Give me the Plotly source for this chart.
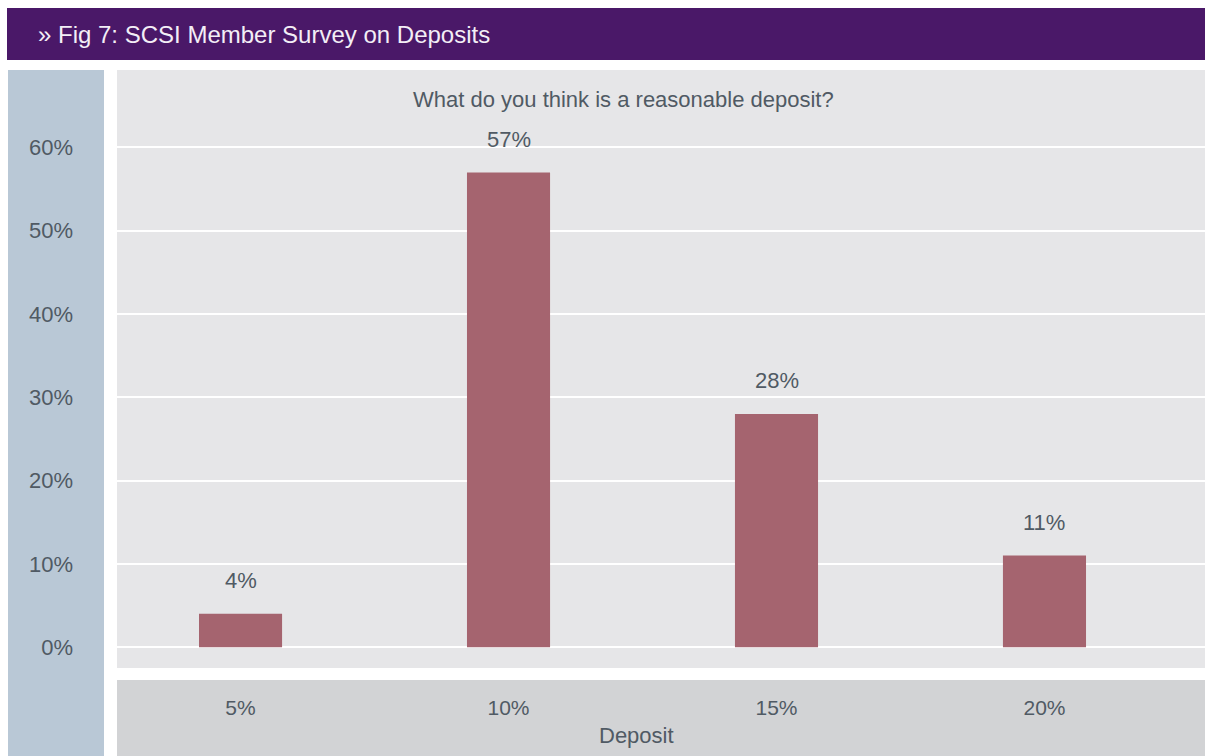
import plotly.graph_objects as go

categories = ["5%", "10%", "15%", "20%"]
values = [4, 57, 28, 11]
value_labels = ["4%", "57%", "28%", "11%"]
y_ticks = [0, 10, 20, 30, 40, 50, 60]
y_tick_labels = ["0%", "10%", "20%", "30%", "40%", "50%", "60%"]

W, H = 1205, 756
ML, MR, MT, MB = 117, 0, 70, 88
PW, PH = W - ML - MR, H - MT - MB

def px(x):
    return (x - ML) / PW

def py(y):
    return 1 - (y - MT) / PH

FONT = "Liberation Sans, Arial, sans-serif"
TXT = "#505a64"

fig = go.Figure()
fig.add_trace(go.Bar(
    x=list(range(len(categories))), y=values,
    marker=dict(color="#a5646f", line=dict(width=0)),
    width=0.31, hoverinfo="skip",
))

for i, (v, t) in enumerate(zip(values, value_labels)):
    fig.add_annotation(x=i, y=v, text=t, showarrow=False, yshift=33,
                       yanchor="middle", font=dict(size=22, color=TXT, family=FONT))

shapes = [
    dict(type="rect", xref="paper", yref="paper", x0=px(7), x1=px(1205),
         y0=py(60), y1=py(8), fillcolor="#4a1868", line=dict(width=0), layer="below"),
    dict(type="rect", xref="paper", yref="paper", x0=px(8), x1=px(104),
         y0=py(756), y1=py(70), fillcolor="#b9c8d6", line=dict(width=0), layer="below"),
    dict(type="rect", xref="paper", yref="paper", x0=px(117), x1=px(1205),
         y0=py(756), y1=py(680), fillcolor="#d2d3d5", line=dict(width=0), layer="below"),
]

annotations = [
    dict(xref="paper", yref="paper", x=px(36), y=py(34), xanchor="left", yanchor="middle",
         text="» Fig 7: SCSI Member Survey on Deposits", showarrow=False,
         font=dict(size=24, color="#f3eef6", family=FONT)),
    dict(xref="paper", yref="paper", x=px(623), y=py(100), xanchor="center", yanchor="middle",
         text="What do you think is a reasonable deposit?", showarrow=False,
         font=dict(size=22, color=TXT, family=FONT)),
    dict(xref="paper", yref="paper", x=px(636), y=py(735), xanchor="center", yanchor="middle",
         text="Deposit", showarrow=False,
         font=dict(size=22, color=TXT, family=FONT)),
]
for a in annotations:
    fig.add_annotation(**a)

fig.update_layout(
    width=W, height=H,
    margin=dict(l=ML, r=MR, t=MT, b=MB, pad=0),
    paper_bgcolor="#ffffff",
    plot_bgcolor="#e6e6e8",
    shapes=shapes,
    showlegend=False,
    font=dict(family=FONT, color=TXT),
    xaxis=dict(
        range=[-0.461, 3.599], tickmode="array",
        tickvals=list(range(len(categories))), ticktext=categories,
        showgrid=False, zeroline=False, showline=False,
        ticks="", ticklabelstandoff=25,
        tickfont=dict(size=21, color=TXT, family=FONT), fixedrange=True,
    ),
    yaxis=dict(
        range=[-2.5, 69.3], tickmode="array", tickvals=y_ticks, ticktext=y_tick_labels,
        showgrid=True, gridcolor="#ffffff", gridwidth=2,
        zeroline=False, showline=False, ticks="", ticklabelstandoff=43,
        tickfont=dict(size=22, color=TXT, family=FONT), fixedrange=True,
    ),
)

fig.write_html("out.html", config={"displayModeBar": False})
